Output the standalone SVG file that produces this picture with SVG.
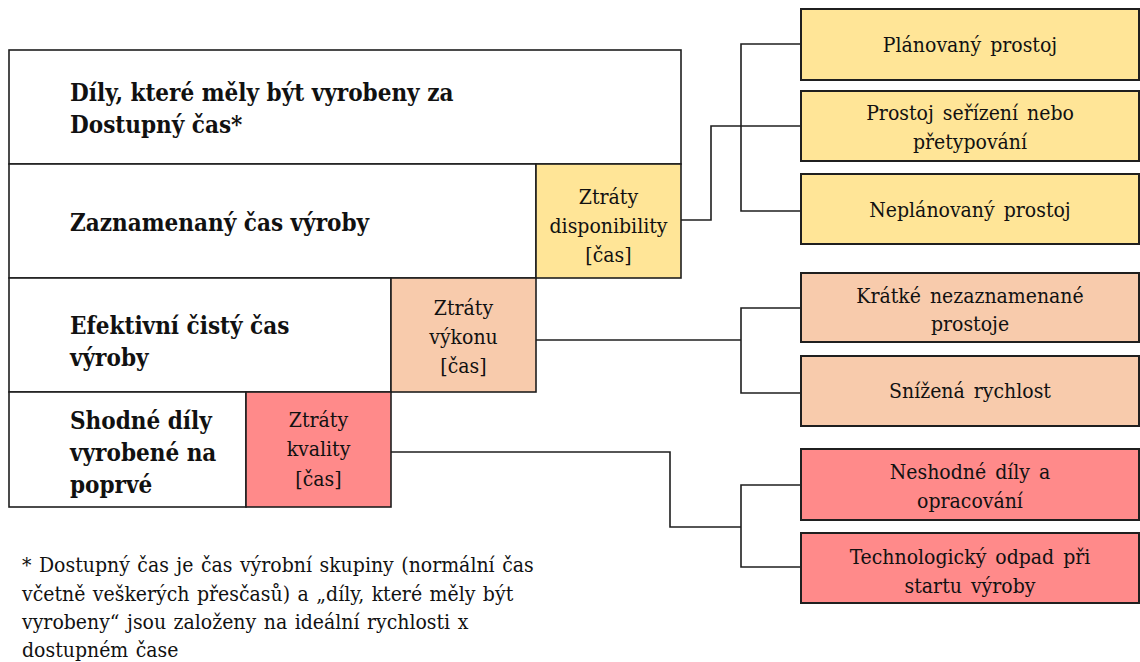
<svg xmlns="http://www.w3.org/2000/svg" width="1140" height="662" viewBox="0 0 1140 662">
<style>
.box{stroke:#1f1f1f;stroke-width:1.6}
.rbox{stroke:#1f1f1f;stroke-width:2}
.w{fill:#ffffff}
.y{fill:#FFE597}
.p{fill:#F8CBAC}
.r{fill:#FF8A8A}
text{font-family:'DejaVu Serif Condensed','DejaVu Serif',serif;font-stretch:condensed;fill:#111}
.bt{font-weight:bold;font-size:24px}
.t{font-size:21px;text-anchor:middle}
.rt{font-size:21px;text-anchor:middle;word-spacing:3px}
.ft{font-size:21px;word-spacing:1.5px}
.c{fill:none;stroke:#1f1f1f;stroke-width:1.6}
</style>
<rect width="1140" height="662" fill="#ffffff"/>
<g id="connectors">
<polyline class="c" points="681,220 711,220 711,126 741,126"/>
<polyline class="c" points="801,44 741,44 741,211 801,211"/>
<line class="c" x1="741" y1="126" x2="801" y2="126"/>
<polyline class="c" points="536,340 741,340"/>
<polyline class="c" points="801,308 741,308 741,393 801,393"/>
<polyline class="c" points="391,452 670,452 670,527 741,527"/>
<polyline class="c" points="801,485 741,485 741,567 801,567"/>
</g>
<g id="dily">
<rect class="box w" x="9" y="50" width="672" height="114"/>
<text class="bt" x="70" y="101">Díly, které měly být vyrobeny za</text>
<text class="bt" x="70" y="133">Dostupný čas*</text>
</g>
<g id="zaznamenany">
<rect class="box w" x="9" y="164" width="527" height="114"/>
<text class="bt" x="70" y="231">Zaznamenaný čas výroby</text>
</g>
<g id="ztraty-disponibility">
<rect class="box y" x="536" y="164" width="145" height="114"/>
<text class="t" x="608.5" y="204">Ztráty</text>
<text class="t" x="608.5" y="233">disponibility</text>
<text class="t" x="608.5" y="262">[čas]</text>
</g>
<g id="efektivni">
<rect class="box w" x="9" y="278" width="382" height="114"/>
<text class="bt" x="70" y="334">Efektivní čistý čas</text>
<text class="bt" x="70" y="366">výroby</text>
</g>
<g id="ztraty-vykonu">
<rect class="box p" x="391" y="278" width="145" height="114"/>
<text class="t" x="463.5" y="315">Ztráty</text>
<text class="t" x="463.5" y="344">výkonu</text>
<text class="t" x="463.5" y="373">[čas]</text>
</g>
<g id="shodne">
<rect class="box w" x="9" y="392" width="237" height="115"/>
<text class="bt" x="70" y="429">Shodné díly</text>
<text class="bt" x="70" y="461">vyrobené na</text>
<text class="bt" x="70" y="493">poprvé</text>
</g>
<g id="ztraty-kvality">
<rect class="box r" x="246" y="392" width="145" height="115"/>
<text class="t" x="318.5" y="427">Ztráty</text>
<text class="t" x="318.5" y="456">kvality</text>
<text class="t" x="318.5" y="486">[čas]</text>
</g>
<g id="planovany">
<rect class="rbox y" x="801" y="9" width="338" height="71"/>
<text class="rt" x="970" y="52">Plánovaný prostoj</text>
</g>
<g id="serizeni">
<rect class="rbox y" x="801" y="91" width="338" height="70"/>
<text class="rt" x="970" y="120">Prostoj seřízení nebo</text>
<text class="rt" x="970" y="149">přetypování</text>
</g>
<g id="neplanovany">
<rect class="rbox y" x="801" y="174" width="338" height="70"/>
<text class="rt" x="970" y="217">Neplánovaný prostoj</text>
</g>
<g id="kratke">
<rect class="rbox p" x="801" y="273" width="338" height="69"/>
<text class="rt" x="970" y="303">Krátké nezaznamenané</text>
<text class="rt" x="970" y="331">prostoje</text>
</g>
<g id="snizena">
<rect class="rbox p" x="801" y="356" width="338" height="70"/>
<text class="rt" x="970" y="398">Snížená rychlost</text>
</g>
<g id="neshodne">
<rect class="rbox r" x="801" y="449" width="338" height="71"/>
<text class="rt" x="970" y="479">Neshodné díly a</text>
<text class="rt" x="970" y="508">opracování</text>
</g>
<g id="technologicky">
<rect class="rbox r" x="801" y="533" width="338" height="70"/>
<text class="rt" x="970" y="564">Technologický odpad při</text>
<text class="rt" x="970" y="593">startu výroby</text>
</g>
<g id="footnote">
<text class="ft" x="22" y="572">* Dostupný čas je čas výrobní skupiny (normální čas</text>
<text class="ft" x="22" y="601">včetně veškerých přesčasů) a „díly, které měly být</text>
<text class="ft" x="22" y="629">vyrobeny“ jsou založeny na ideální rychlosti x</text>
<text class="ft" x="22" y="657">dostupném čase</text>
</g>
</svg>
